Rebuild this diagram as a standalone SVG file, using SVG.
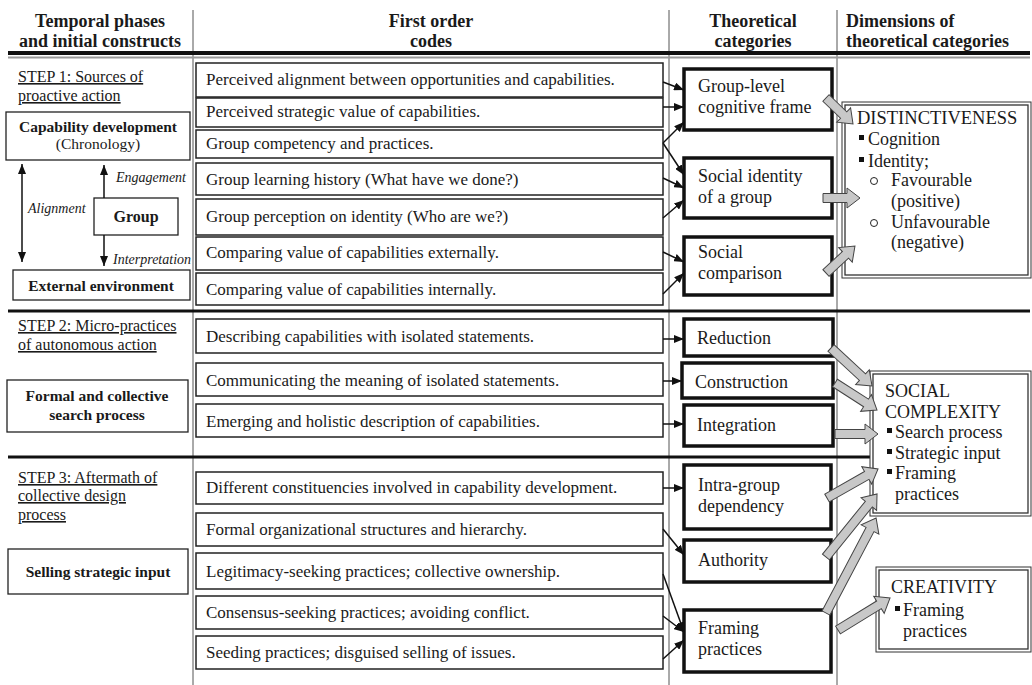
<svg xmlns="http://www.w3.org/2000/svg" width="1032" height="685" viewBox="0 0 1032 685">
<style>
text{font-family:"Liberation Serif","Times New Roman",serif;fill:#1a1a1a}
.hdr{font-size:18px;font-weight:bold}
.code{font-size:17px}
.cat{font-size:18px}
.dim{font-size:18px}
.step{font-size:16px;text-decoration:underline}
.lbl{font-size:15.5px;font-weight:bold}
.lblr{font-size:15.5px}
.it{font-size:14px;font-style:italic}
.cbox{fill:#fff;stroke:#222;stroke-width:1.5}
.tbox{fill:#fff;stroke:#111;stroke-width:3.5}
.lbox{fill:#fff;stroke:#222;stroke-width:1.3}
.dout{fill:#fff;stroke:#333;stroke-width:1}
.din{fill:none;stroke:#333;stroke-width:1.3}
.col{stroke:#555;stroke-width:1}
.arr{stroke:#111;stroke-width:1.5;fill:none;marker-end:url(#ah)}
.big{fill:#c8c8c8;stroke:#444;stroke-width:1}
.sq{fill:#111}
.circ{fill:none;stroke:#222;stroke-width:1}
</style>
<defs>
<marker id="ah" markerUnits="userSpaceOnUse" markerWidth="10" markerHeight="8" refX="10" refY="4" orient="auto"><path d="M0,0 L10,4 L0,8 z" fill="#111"/></marker>
<marker id="ahs" markerUnits="userSpaceOnUse" markerWidth="10" markerHeight="8" refX="10" refY="4" orient="auto-start-reverse"><path d="M0,0 L10,4 L0,8 z" fill="#111"/></marker>
</defs>
<rect width="1032" height="685" fill="#fff"/>

<g id="grid">
<line class="col" x1="193" y1="10" x2="193" y2="685"/>
<line class="col" x1="669" y1="10" x2="669" y2="685"/>
<line class="col" x1="837" y1="10" x2="837" y2="685"/>
<rect x="8" y="51" width="1022" height="4" fill="#111"/>
<line x1="8" y1="57.5" x2="1030" y2="57.5" stroke="#999" stroke-width="2"/>
<line x1="8" y1="311" x2="1030" y2="311" stroke="#111" stroke-width="3"/>
<line x1="8" y1="457" x2="1030" y2="457" stroke="#111" stroke-width="3"/>
</g>

<g id="headers">
<text class="hdr" x="100" y="27" text-anchor="middle">Temporal phases</text>
<text class="hdr" x="100" y="47" text-anchor="middle">and initial constructs</text>
<text class="hdr" x="431" y="27" text-anchor="middle">First order</text>
<text class="hdr" x="431" y="47" text-anchor="middle">codes</text>
<text class="hdr" x="753" y="27" text-anchor="middle">Theoretical</text>
<text class="hdr" x="753" y="47" text-anchor="middle">categories</text>
<text class="hdr" x="846" y="27">Dimensions of</text>
<text class="hdr" x="846" y="47">theoretical categories</text>
</g>

<g id="step1-left">
<text class="step" x="18" y="82">STEP 1: Sources of</text>
<text class="step" x="18" y="101">proactive action</text>
<g id="capability-development">
<rect class="lbox" x="6" y="112" width="184" height="48"/>
<text class="lbl" x="98" y="132" text-anchor="middle">Capability development</text>
<text class="lblr" x="98" y="149" text-anchor="middle">(Chronology)</text>
</g>
<g id="group">
<rect class="lbox" x="94" y="198" width="84" height="37"/>
<text class="lbl" x="136" y="222" text-anchor="middle" style="font-size:16px">Group</text>
</g>
<g id="external-environment">
<rect class="lbox" x="13" y="270" width="177" height="30"/>
<text class="lbl" x="101" y="291" text-anchor="middle">External environment</text>
</g>
<text class="it" x="116" y="182">Engagement</text>
<text class="it" x="28" y="213">Alignment</text>
<text class="it" x="113" y="264">Interpretation</text>
</g>

<g id="step2-left">
<text class="step" x="18" y="331">STEP 2: Micro-practices</text>
<text class="step" x="18" y="350">of autonomous action</text>
<g id="formal-search">
<rect class="lbox" x="7" y="380" width="181" height="52"/>
<text class="lbl" x="97" y="401" text-anchor="middle">Formal and collective</text>
<text class="lbl" x="97" y="420" text-anchor="middle">search process</text>
</g>
</g>

<g id="step3-left">
<text class="step" x="18" y="483">STEP 3: Aftermath of</text>
<text class="step" x="18" y="501">collective design</text>
<text class="step" x="18" y="520">process</text>
<g id="selling-input">
<rect class="lbox" x="8" y="549" width="180" height="45"/>
<text class="lbl" x="98" y="577" text-anchor="middle">Selling strategic input</text>
</g>
</g>

<g id="codes">
<g id="c1"><rect class="cbox" x="196" y="63" width="467" height="34"/><text class="code" x="206" y="85">Perceived alignment between opportunities and capabilities.</text></g>
<g id="c2"><rect class="cbox" x="196" y="98" width="467" height="29"/><text class="code" x="206" y="117">Perceived strategic value of capabilities.</text></g>
<g id="c3"><rect class="cbox" x="196" y="130" width="467" height="28"/><text class="code" x="206" y="149">Group competency and practices.</text></g>
<g id="c4"><rect class="cbox" x="196" y="163" width="467" height="32"/><text class="code" x="206" y="185">Group learning history (What have we done?)</text></g>
<g id="c5"><rect class="cbox" x="196" y="199" width="467" height="36"/><text class="code" x="206" y="222">Group perception on identity (Who are we?)</text></g>
<g id="c6"><rect class="cbox" x="196" y="237" width="467" height="33"/><text class="code" x="206" y="258">Comparing value of capabilities externally.</text></g>
<g id="c7"><rect class="cbox" x="196" y="273" width="467" height="32"/><text class="code" x="206" y="295">Comparing value of capabilities internally.</text></g>
<g id="c8"><rect class="cbox" x="196" y="319" width="467" height="34"/><text class="code" x="206" y="342">Describing capabilities with isolated statements.</text></g>
<g id="c9"><rect class="cbox" x="196" y="363" width="467" height="33"/><text class="code" x="206" y="386">Communicating the meaning of isolated statements.</text></g>
<g id="c10"><rect class="cbox" x="196" y="404" width="467" height="33"/><text class="code" x="206" y="427">Emerging and holistic description of capabilities.</text></g>
<g id="c11"><rect class="cbox" x="196" y="472" width="467" height="32"/><text class="code" x="206" y="493">Different constituencies involved in capability development.</text></g>
<g id="c12"><rect class="cbox" x="196" y="513" width="467" height="33"/><text class="code" x="206" y="535">Formal organizational structures and hierarchy.</text></g>
<g id="c13"><rect class="cbox" x="196" y="553" width="467" height="36"/><text class="code" x="206" y="577">Legitimacy-seeking practices; collective ownership.</text></g>
<g id="c14"><rect class="cbox" x="196" y="596" width="467" height="33"/><text class="code" x="206" y="618">Consensus-seeking practices; avoiding conflict.</text></g>
<g id="c15"><rect class="cbox" x="196" y="636" width="467" height="33"/><text class="code" x="206" y="658">Seeding practices; disguised selling of issues.</text></g>
</g>

<g id="categories">
<g id="t-group-level"><rect class="tbox" x="684" y="69" width="148" height="61"/><text class="cat" x="698" y="92">Group-level</text><text class="cat" x="698" y="113">cognitive frame</text></g>
<g id="t-social-identity"><rect class="tbox" x="684" y="158" width="148" height="60"/><text class="cat" x="698" y="182">Social identity</text><text class="cat" x="698" y="203">of a group</text></g>
<g id="t-social-comparison"><rect class="tbox" x="684" y="237" width="148" height="58"/><text class="cat" x="698" y="258">Social</text><text class="cat" x="698" y="279">comparison</text></g>
<g id="t-reduction"><rect class="tbox" x="684" y="319" width="149" height="37"/><text class="cat" x="697" y="344">Reduction</text></g>
<g id="t-construction"><rect class="tbox" x="682" y="363" width="151" height="35"/><text class="cat" x="695" y="388">Construction</text></g>
<g id="t-integration"><rect class="tbox" x="684" y="405" width="149" height="41"/><text class="cat" x="697" y="431">Integration</text></g>
<g id="t-intra-group"><rect class="tbox" x="684" y="465" width="147" height="64"/><text class="cat" x="698" y="491">Intra-group</text><text class="cat" x="698" y="512">dependency</text></g>
<g id="t-authority"><rect class="tbox" x="684" y="540" width="147" height="42"/><text class="cat" x="698" y="566">Authority</text></g>
<g id="t-framing"><rect class="tbox" x="684" y="610" width="147" height="62"/><text class="cat" x="698" y="634">Framing</text><text class="cat" x="698" y="655">practices</text></g>
</g>

<g id="dimensions">
<g id="d-distinctiveness">
<rect class="dout" x="842" y="102" width="189" height="176"/>
<rect class="din" x="845" y="105" width="183" height="170"/>
<text class="dim" x="857" y="124" style="font-size:18.5px">DISTINCTIVENESS</text>
<rect class="sq" x="859" y="135" width="5" height="5"/><text class="dim" x="868" y="145">Cognition</text>
<rect class="sq" x="859" y="157" width="5" height="5"/><text class="dim" x="868" y="167">Identity;</text>
<circle class="circ" cx="874" cy="181" r="3.5"/><text class="dim" x="891" y="186">Favourable</text>
<text class="dim" x="891" y="207">(positive)</text>
<circle class="circ" cx="874" cy="223" r="3.5"/><text class="dim" x="891" y="228">Unfavourable</text>
<text class="dim" x="891" y="248">(negative)</text>
</g>
<g id="d-social-complexity">
<rect class="dout" x="870" y="371" width="161" height="145"/>
<rect class="din" x="873" y="374" width="155" height="139"/>
<text class="dim" x="885" y="397">SOCIAL</text>
<text class="dim" x="885" y="418">COMPLEXITY</text>
<rect class="sq" x="887" y="428" width="5" height="5"/><text class="dim" x="895" y="438">Search process</text>
<rect class="sq" x="887" y="449" width="5" height="5"/><text class="dim" x="895" y="459">Strategic input</text>
<rect class="sq" x="887" y="469" width="5" height="5"/><text class="dim" x="895" y="479">Framing</text>
<text class="dim" x="895" y="500">practices</text>
</g>
<g id="d-creativity">
<rect class="dout" x="876" y="567" width="155" height="85"/>
<rect class="din" x="879" y="570" width="149" height="79"/>
<text class="dim" x="891" y="593">CREATIVITY</text>
<rect class="sq" x="895" y="606" width="5" height="5"/><text class="dim" x="903" y="616">Framing</text>
<text class="dim" x="903" y="637">practices</text>
</g>
</g>

<g id="connectors">
<line x1="22" y1="164" x2="22" y2="262" stroke="#111" stroke-width="1.5" marker-start="url(#ahs)" marker-end="url(#ahs)"/>
<line class="arr" x1="104" y1="198" x2="104" y2="165"/>
<line class="arr" x1="104" y1="235" x2="104" y2="266"/>
<line class="arr" x1="663" y1="82" x2="684" y2="90"/>
<line class="arr" x1="663" y1="107" x2="684" y2="107"/>
<line class="arr" x1="663" y1="143" x2="684" y2="122"/>
<line class="arr" x1="663" y1="143" x2="684" y2="175"/>
<line class="arr" x1="663" y1="178" x2="684" y2="188"/>
<line class="arr" x1="663" y1="218" x2="684" y2="200"/>
<line class="arr" x1="663" y1="252" x2="684" y2="262"/>
<line class="arr" x1="663" y1="294" x2="684" y2="273"/>
<line class="arr" x1="663" y1="339" x2="684" y2="339"/>
<line class="arr" x1="663" y1="381" x2="682" y2="381"/>
<line class="arr" x1="663" y1="424" x2="684" y2="424"/>
<line class="arr" x1="663" y1="488" x2="684" y2="488"/>
<line class="arr" x1="663" y1="529" x2="684" y2="555"/>
<line class="arr" x1="663" y1="574" x2="684" y2="632"/>
<line class="arr" x1="663" y1="616" x2="684" y2="632"/>
<line class="arr" x1="663" y1="659" x2="684" y2="640"/>
<polygon class="big" transform="translate(826,98) rotate(43.9)" points="0,-4.5 24.5,-4.5 24.5,-10 37.5,0 24.5,10 24.5,4.5 0,4.5"/>
<polygon class="big" transform="translate(823,198)" points="0,-4.5 24,-4.5 24,-10 37,0 24,10 24,4.5 0,4.5"/>
<polygon class="big" transform="translate(826,273) rotate(-43)" points="0,-4.5 26.6,-4.5 26.6,-10 39.6,0 26.6,10 26.6,4.5 0,4.5"/>
<polygon class="big" transform="translate(831,348) rotate(42.8)" points="0,-4.5 42.9,-4.5 42.9,-10 55.9,0 42.9,10 42.9,4.5 0,4.5"/>
<polygon class="big" transform="translate(835,383) rotate(32.7)" points="0,-4.5 36.9,-4.5 36.9,-10 49.9,0 36.9,10 36.9,4.5 0,4.5"/>
<polygon class="big" transform="translate(835,434)" points="0,-4.5 30,-4.5 30,-10 43,0 30,10 30,4.5 0,4.5"/>
<polygon class="big" transform="translate(827,498) rotate(-29.6)" points="0,-4.5 45.7,-4.5 45.7,-10 58.7,0 45.7,10 45.7,4.5 0,4.5"/>
<polygon class="big" transform="translate(826,557) rotate(-51)" points="0,-4.5 68.1,-4.5 68.1,-10 81.1,0 68.1,10 68.1,4.5 0,4.5"/>
<polygon class="big" transform="translate(826,613) rotate(-62.2)" points="0,-4.5 94.4,-4.5 94.4,-10 107.4,0 94.4,10 94.4,4.5 0,4.5"/>
<polygon class="big" transform="translate(838,630) rotate(-31.6)" points="0,-4.5 48.1,-4.5 48.1,-10 61.1,0 48.1,10 48.1,4.5 0,4.5"/>
</g>
</svg>
